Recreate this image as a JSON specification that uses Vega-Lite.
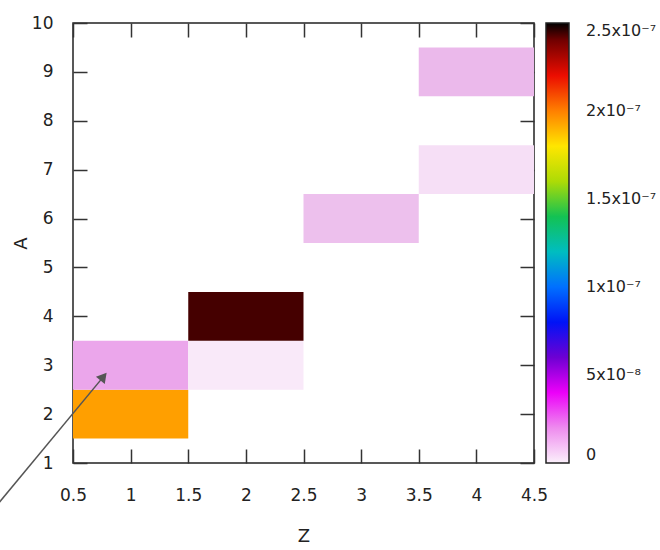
{
  "$schema": "https://vega.github.io/schema/vega-lite/v6.json",
  "autosize": "none",
  "width": 461,
  "height": 440,
  "padding": {"left": 73, "top": 23, "right": 126, "bottom": 87},
  "background": "white",
  "config": {
    "font": "DejaVu Sans",
    "view": {"stroke": "#222222", "strokeWidth": 1.5},
    "axis": {
      "grid": false,
      "domain": false,
      "tickColor": "#333333",
      "tickWidth": 1.5,
      "tickSize": -14,
      "labelFont": "DejaVu Sans",
      "labelFontSize": 17,
      "labelColor": "#222222",
      "titleFont": "DejaVu Sans",
      "titleFontSize": 18,
      "titleFontWeight": "normal",
      "titleColor": "#222222"
    }
  },
  "datasets": {
    "cells": [
      {"Z": 1, "A": 2, "v": 1.94e-7},
      {"Z": 1, "A": 3, "v": 1.5e-8},
      {"Z": 2, "A": 3, "v": 1.5e-9},
      {"Z": 2, "A": 4, "v": 2.44e-7},
      {"Z": 3, "A": 6, "v": 1.0e-8},
      {"Z": 4, "A": 7, "v": 3.5e-9},
      {"Z": 4, "A": 9, "v": 1.15e-8}
    ],
    "arrow": [
      {"Z0": -0.151, "A0": 0.162, "Z1": 0.7646, "A1": 2.767}
    ]
  },
  "layer": [
    {
      "data": {"name": "cells"},
      "transform": [
        {"calculate": "datum.Z - 0.5", "as": "z_lo"},
        {"calculate": "datum.Z + 0.5", "as": "z_hi"},
        {"calculate": "datum.A - 0.5", "as": "a_lo"},
        {"calculate": "datum.A + 0.5", "as": "a_hi"}
      ],
      "mark": {"type": "rect", "strokeWidth": 0},
      "encoding": {
        "x": {
          "field": "z_lo", "type": "quantitative",
          "scale": {"domain": [0.5, 4.5], "nice": false, "zero": false},
          "axis": {"orient": "bottom", "values": [0.5, 1, 1.5, 2, 2.5, 3, 3.5, 4, 4.5], "format": "~g", "labelPadding": 38, "titlePadding": 24, "labelFlush": false},
          "title": "Z"
        },
        "x2": {"field": "z_hi"},
        "y": {
          "field": "a_lo", "type": "quantitative",
          "scale": {"domain": [1, 10], "nice": false, "zero": false},
          "axis": {"orient": "left", "values": [1, 2, 3, 4, 5, 6, 7, 8, 9, 10], "format": "d", "labelPadding": 34, "titlePadding": 1, "labelFlush": false},
          "title": "A"
        },
        "y2": {"field": "a_hi"},
        "color": {
          "field": "v", "type": "quantitative",
          "scale": {
            "domain": [0, 2.5e-7],
            "range": ["#fbf0fb", "#eab4ea", "#f070f0", "#ff00ff", "#a000e0", "#6000d0", "#0000f0", "#0030ff", "#0070ff", "#00b8f0", "#00c0a0", "#00c060", "#60c820", "#c0e000", "#ffff00", "#ffc000", "#ff8000", "#ff2000", "#e00000", "#900000", "#000000"],
            "interpolate": "rgb"
          },
          "legend": {
            "orient": "right",
            "offset": 11,
            "padding": 0,
            "title": null,
            "direction": "vertical",
            "gradientLength": 440,
            "gradientThickness": 23,
            "gradientStrokeColor": "#222222",
            "gradientStrokeWidth": 1.5,
            "values": [0, 5e-8, 1e-7, 1.5e-7, 2e-7, 2.5e-7],
            "labelExpr": "datum.value == 0 ? '0' : datum.value < 6e-8 ? '5x10⁻⁸' : datum.value < 1.1e-7 ? '1x10⁻⁷' : datum.value < 1.6e-7 ? '1.5x10⁻⁷' : datum.value < 2.1e-7 ? '2x10⁻⁷' : '2.5x10⁻⁷'",
            "labelFont": "DejaVu Sans",
            "labelFontSize": 16,
            "labelColor": "#222222",
            "labelOffset": 17,
            "labelBaseline": "middle",
            "labelOverlap": false
          }
        }
      }
    },
    {
      "data": {"name": "cells"},
      "mark": {"type": "point", "opacity": 0},
      "encoding": {
        "x": {
          "field": "Z", "type": "quantitative",
          "scale": {"domain": [0.5, 4.5], "nice": false, "zero": false},
          "axis": {"orient": "top", "values": [0.5, 1, 1.5, 2, 2.5, 3, 3.5, 4, 4.5], "labels": false, "title": null}
        },
        "y": {
          "field": "A", "type": "quantitative",
          "scale": {"domain": [1, 10], "nice": false, "zero": false},
          "axis": {"orient": "right", "values": [1, 2, 3, 4, 5, 6, 7, 8, 9, 10], "labels": false, "title": null}
        }
      }
    },
    {
      "data": {"name": "arrow"},
      "mark": {"type": "rule", "color": "#555555", "strokeWidth": 1.5},
      "encoding": {
        "x": {"field": "Z0", "type": "quantitative", "axis": null, "scale": {"domain": [0.5, 4.5], "nice": false, "zero": false}},
        "y": {"field": "A0", "type": "quantitative", "axis": null, "scale": {"domain": [1, 10], "nice": false, "zero": false}},
        "x2": {"field": "Z1"},
        "y2": {"field": "A1"}
      }
    },
    {
      "data": {"name": "arrow"},
      "mark": {"type": "point", "shape": "triangle-up", "filled": true, "color": "#555555", "opacity": 1, "size": 130, "angle": 39.5},
      "encoding": {
        "x": {"field": "Z1", "type": "quantitative", "axis": null, "scale": {"domain": [0.5, 4.5], "nice": false, "zero": false}},
        "y": {"field": "A1", "type": "quantitative", "axis": null, "scale": {"domain": [1, 10], "nice": false, "zero": false}}
      }
    }
  ],
  "resolve": {"axis": {"x": "independent", "y": "independent"}}
}
